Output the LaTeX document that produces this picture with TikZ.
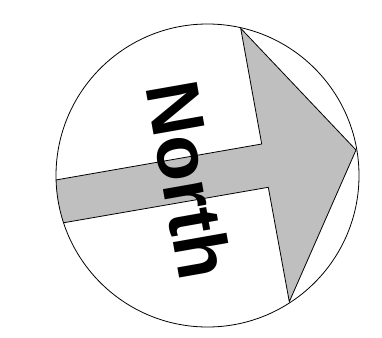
\documentclass[tikz,border=0pt]{standalone}
\usepackage{fontspec}
\setmainfont{Liberation Sans}
\begin{document}
\begin{tikzpicture}[x=1pt,y=-1pt,
  ring/.style={draw=black,line width=0.8pt},
  arrowshape/.style={draw=black,line width=0.8pt,fill=lightgray,line join=miter},
  label/.style={font=\fontsize{75}{80}\selectfont\bfseries,inner sep=0pt,rotate=-80}]
\useasboundingbox (0,0) rectangle (382,337);
\coordinate (c) at (207.5,175.5);
\coordinate (t1) at (36.3,183.4);
\coordinate (n1) at (261.7,144);
\coordinate (h1) at (240.7,28.3);
\coordinate (tip) at (356,150);
\coordinate (h2) at (289.3,301.7);
\coordinate (n2) at (268.3,187.3);
\coordinate (t2) at (44.3,226.1);
\begin{scope}
\clip (c) circle[radius=151.5];
\draw[arrowshape] (t1) -- (n1) -- (h1) -- (tip) -- (h2) -- (n2) -- (t2) -- cycle;
\end{scope}
\node[ring,circle,minimum size=303pt,inner sep=0pt] (dial) at (c) {};
\node[label] (north) at (189,180) {North};
\end{tikzpicture}
\end{document}
